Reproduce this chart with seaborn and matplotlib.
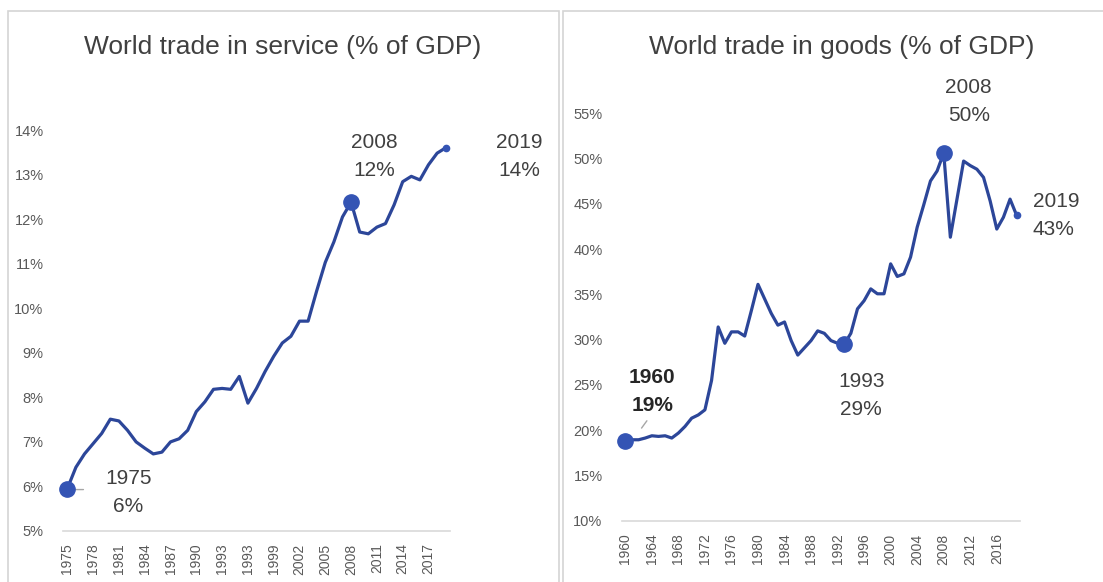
import numpy as np
import pandas as pd
import matplotlib
matplotlib.use("Agg")
import matplotlib.pyplot as plt
import matplotlib.patches as patches
import seaborn as sns

# --- data ---
service_years = list(range(1975, 2020))
service_pct = [5.95, 6.43, 6.73, 6.96, 7.19, 7.51, 7.47, 7.26, 7.00, 6.86,
               6.73, 6.77, 7.00, 7.07, 7.26, 7.68, 7.90, 8.18, 8.20, 8.18,
               8.47, 7.87, 8.20, 8.58, 8.92, 9.22, 9.37, 9.71, 9.71, 10.39,
               11.03, 11.49, 12.05, 12.38, 11.71, 11.67, 11.82, 11.90, 12.32, 12.84,
               12.96, 12.88, 13.22, 13.48, 13.60]
service_ticks = [1975, 1978, 1981, 1984, 1987, 1990, 1993, 1996, 1999, 2002,
                 2005, 2008, 2011, 2014, 2017]
service_ticklabels = ["1975", "1978", "1981", "1984", "1987", "1990", "1993", "1993",
                      "1999", "2002", "2005", "2008", "2011", "2014", "2017"]
service_yticks = [5, 6, 7, 8, 9, 10, 11, 12, 13, 14]

goods_years = list(range(1960, 2020))
goods_pct = [18.8, 18.96, 18.96, 19.15, 19.4, 19.33, 19.4, 19.15, 19.7, 20.43,
             21.34, 21.7, 22.26, 25.5, 31.4, 29.6, 30.86, 30.86, 30.4, 33.2,
             36.1, 34.5, 32.9, 31.6, 31.95, 29.9, 28.3, 29.1, 29.9, 30.97,
             30.7, 29.9, 29.6, 29.5, 30.7, 33.4, 34.3, 35.6, 35.06, 35.06,
             38.36, 36.97, 37.26, 39.1, 42.4, 44.9, 47.5, 48.6, 50.6, 41.3,
             45.5, 49.7, 49.2, 48.8, 47.9, 45.3, 42.2, 43.5, 45.5, 43.7]
goods_ticks = list(range(1960, 2017, 4))
goods_ticklabels = [str(y) for y in goods_ticks]
goods_yticks = [10, 15, 20, 25, 30, 35, 40, 45, 50, 55]

# highlighted points: (year, label lines, offset px, big marker, bold)
service_notes = [(1975, "1975\n6%", (61, -4), True, False),
                 (2008, "2008\n12%", (23, 46), True, False),
                 (2019, "2019\n14%", (74, -9), False, False)]
goods_notes = [(1960, "1960\n19%", (27, 50), True, True),
               (1993, "1993\n29%", (17, -51), True, False),
               (2008, "2008\n50%", (25, 51), True, False),
               (2019, "2019\n43%", (16, 0), False, False)]

LINE = "#2c4699"
DOT = "#3454b4"
TXT = "#404040"
TICK = "#595959"

sns.set_style("white")
plt.rcParams['font.family'] = ['Liberation Sans', 'DejaVu Sans']

W, H = 1103, 582
fig = plt.figure(figsize=(W / 100, H / 100), dpi=100)

# panel frames
for x0, x1 in [(8, 559), (563, 1120)]:
    fig.patches.append(patches.Rectangle((x0 / W, -0.1), (x1 - x0) / W, 1.1 - 11 / H,
                                         transform=fig.transFigure, fill=False,
                                         edgecolor="#d4d4d4", linewidth=1.2))


def make_axes(px_left, px_right, px_top, px_bottom):
    return fig.add_axes([px_left / W, 1 - px_bottom / H,
                         (px_right - px_left) / W, (px_bottom - px_top) / H])


def draw_panel(ax, years, vals, ticks, ticklabels, yticks, notes, ylim):
    df = pd.DataFrame({"year": years, "val": vals})
    sns.lineplot(data=df, x="year", y="val", ax=ax, color=LINE, linewidth=2.3)
    ax.set_xlim(years[0] - 0.5, years[-1] + 0.5)
    ax.set_ylim(*ylim)
    ax.set_xticks(ticks)
    ax.set_xticklabels(ticklabels, rotation=90, fontsize=10, color=TICK)
    ax.set_yticks(yticks)
    ax.set_yticklabels([f"{v}%" for v in yticks], fontsize=10.5, color=TICK)
    ax.tick_params(axis="both", length=0)
    ax.tick_params(axis="y", pad=14)
    ax.tick_params(axis="x", pad=9)
    ax.set_xlabel("")
    ax.set_ylabel("")
    for s in ["top", "right", "left"]:
        ax.spines[s].set_visible(False)
    ax.spines["bottom"].set_color("#d9d9d9")
    ax.spines["bottom"].set_linewidth(1.2)
    ax.patch.set_alpha(0)
    for yr, label, off, big, bold in notes:
        v = vals[years.index(yr)]
        ax.plot([yr], [v], "o", color=DOT, markersize=11 if big else 4.5, clip_on=False, zorder=5)
        ax.annotate(label, xy=(yr, v), xytext=off, textcoords="offset pixels",
                    ha="left" if not big and off[0] < 30 else "center", va="center",
                    fontsize=15, color="#262626" if bold else TXT, linespacing=1.6,
                    fontweight="bold" if bold else "normal", annotation_clip=False)


ax1 = make_axes(63, 450, 130, 531)
draw_panel(ax1, service_years, service_pct, service_ticks, service_ticklabels,
           service_yticks, service_notes, (5, 14))
ax1.annotate("", xy=(1975.6, 5.93), xytext=(1977.2, 5.93),
             arrowprops=dict(arrowstyle="-", color="#a6a6a6", lw=1))

ax2 = make_axes(622, 1020, 113, 521)
draw_panel(ax2, goods_years, goods_pct, goods_ticks, goods_ticklabels,
           goods_yticks, goods_notes, (10, 55))
ax2.annotate("", xy=(1962.2, 20.0), xytext=(1963.5, 21.3),
             arrowprops=dict(arrowstyle="-", color="#a6a6a6", lw=1))

fig.text(283 / W, 1 - 47 / H, "World trade in service (% of GDP)", ha="center", va="center",
         fontsize=19, color=TXT)
fig.text(842 / W, 1 - 47 / H, "World trade in goods (% of GDP)", ha="center", va="center",
         fontsize=19, color=TXT)

fig.savefig("out.png", dpi=100)
